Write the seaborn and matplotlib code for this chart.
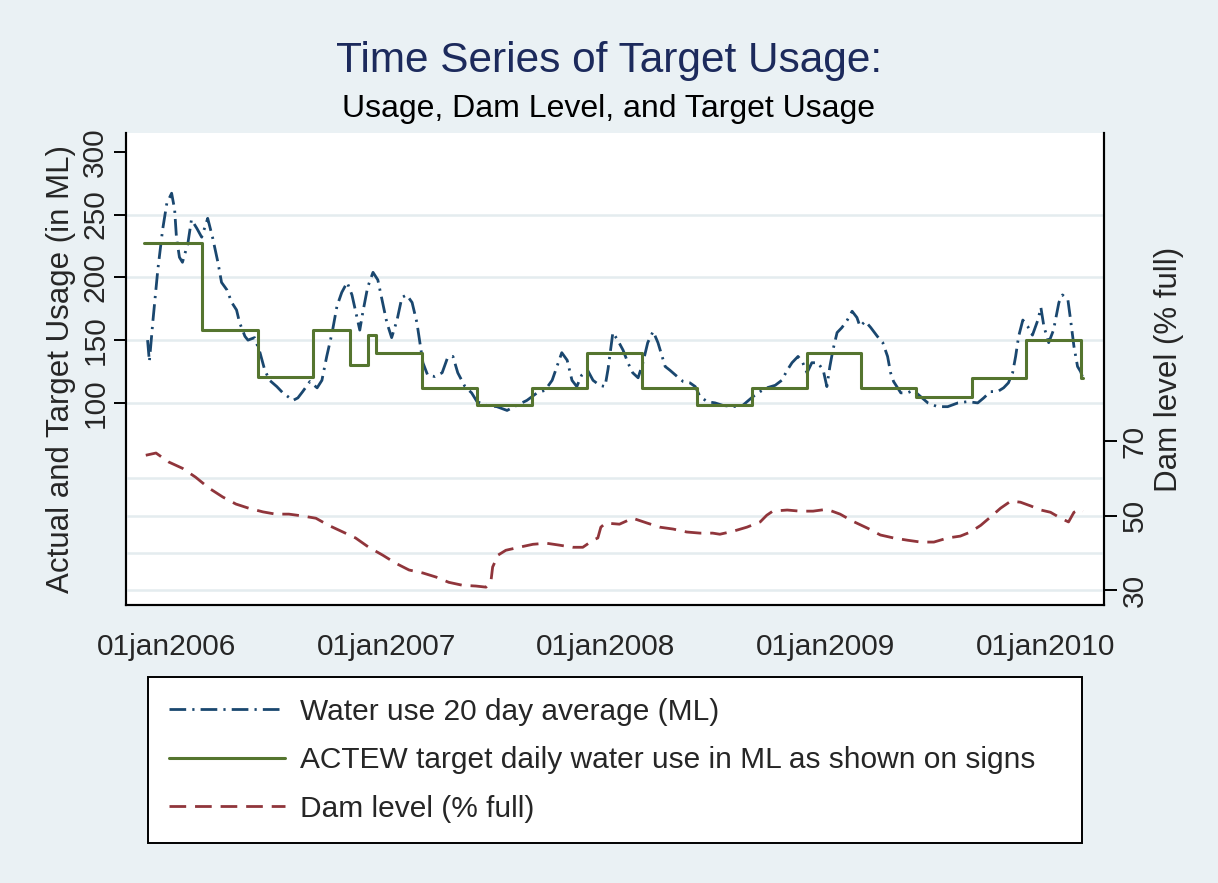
import pandas as pd
import seaborn as sns
import matplotlib.pyplot as plt

# Water use 20 day average (ML)
use_dates = [
    "2005-11-30", "2005-12-03", "2005-12-09", "2005-12-17", "2005-12-25", "2006-01-01", "2006-01-09",
    "2006-01-14", "2006-01-17", "2006-01-22", "2006-01-27", "2006-02-05", "2006-02-11", "2006-02-20",
    "2006-02-28", "2006-03-10", "2006-03-18", "2006-03-27", "2006-04-02", "2006-04-11", "2006-04-19",
    "2006-04-27", "2006-05-02", "2006-05-11", "2006-05-16", "2006-05-27", "2006-06-05", "2006-06-13",
    "2006-06-21", "2006-07-03", "2006-07-13", "2006-07-30", "2006-08-07", "2006-08-15", "2006-08-27",
    "2006-09-08", "2006-09-16", "2006-09-24", "2006-10-03", "2006-10-11", "2006-10-19", "2006-10-28",
    "2006-11-05", "2006-11-13", "2006-11-18", "2006-11-23", "2006-12-01", "2006-12-10", "2006-12-18",
    "2006-12-26", "2007-01-02", "2007-01-10", "2007-01-19", "2007-01-27", "2007-02-04", "2007-02-13",
    "2007-02-21", "2007-02-26", "2007-03-03", "2007-03-11", "2007-03-23", "2007-04-04", "2007-04-13",
    "2007-04-22", "2007-04-30", "2007-05-12", "2007-05-23", "2007-06-01", "2007-06-17", "2007-07-04",
    "2007-07-21", "2007-08-06", "2007-08-23", "2007-09-09", "2007-09-22", "2007-10-04", "2007-10-12",
    "2007-10-20", "2007-10-29", "2007-11-06", "2007-11-14", "2007-11-22", "2007-12-02", "2007-12-11",
    "2007-12-22", "2007-12-31", "2008-01-05", "2008-01-13", "2008-01-21", "2008-01-30", "2008-02-07",
    "2008-02-15", "2008-02-24", "2008-03-03", "2008-03-11", "2008-03-20", "2008-03-28", "2008-04-04",
    "2008-04-09", "2008-04-17", "2008-04-29", "2008-05-09", "2008-05-20", "2008-05-29", "2008-06-06",
    "2008-06-18", "2008-07-01", "2008-07-14", "2008-07-31", "2008-08-16", "2008-09-02", "2008-09-14",
    "2008-09-25", "2008-10-09", "2008-10-20", "2008-10-29", "2008-11-06", "2008-11-16", "2008-11-23",
    "2008-12-01", "2008-12-09", "2008-12-19", "2008-12-28", "2009-01-03", "2009-01-08", "2009-01-13",
    "2009-01-20", "2009-01-28", "2009-02-06", "2009-02-14", "2009-02-22", "2009-02-27", "2009-03-08",
    "2009-03-17", "2009-03-28", "2009-04-06", "2009-04-14", "2009-04-19", "2009-04-24", "2009-05-06",
    "2009-05-17", "2009-05-27", "2009-06-08", "2009-06-20", "2009-07-06", "2009-07-23", "2009-08-09",
    "2009-08-25", "2009-09-11", "2009-09-21", "2009-10-02", "2009-10-14", "2009-10-24", "2009-11-01",
    "2009-11-08", "2009-11-13", "2009-11-18", "2009-11-25", "2009-12-03", "2009-12-11", "2009-12-20",
    "2009-12-25", "2009-12-30", "2010-01-07", "2010-01-15", "2010-01-24", "2010-01-30", "2010-02-08",
    "2010-02-13", "2010-02-18", "2010-02-24", "2010-03-01", "2010-03-04",
]
use_ml = [
    150, 133, 166, 206, 238, 259, 267,
    254, 232, 216, 212, 227, 246, 239,
    232, 247, 232, 212, 196, 190, 180,
    174, 164, 153, 150, 152, 140, 126,
    118, 113, 108, 102, 104, 109, 117,
    112, 118, 137, 156, 177, 188, 196,
    186, 169, 158, 172, 192, 204, 198,
    180, 164, 152, 166, 184, 186, 180,
    164, 148, 132, 122, 121, 124, 136,
    137, 124, 113, 108, 101, 98, 97,
    94, 98, 102, 108, 110, 118, 129,
    140, 134, 118, 113, 122, 126, 118,
    114, 113, 127, 156, 150, 142, 132,
    124, 120, 132, 148, 157, 148, 137,
    129, 126, 121, 117, 116, 113, 105,
    101, 100, 98, 97, 98, 105, 109,
    112, 114, 118, 126, 132, 137, 133,
    124, 132, 132, 126, 113, 129, 142,
    156, 160, 166, 173, 168, 161, 165,
    160, 153, 148, 137, 124, 117, 108,
    108, 110, 105, 100, 97, 97, 100,
    101, 100, 104, 109, 109, 112, 116,
    124, 137, 153, 166, 161, 154, 166,
    176, 161, 148, 158, 180, 186, 182,
    164, 145, 129, 125, 121,
]

# ACTEW target daily water use (ML), value holds until the next date
target_dates = [
    "2005-11-24", "2006-03-01", "2006-06-01", "2006-09-01", "2006-11-01", "2006-12-01", "2006-12-15",
    "2007-03-01", "2007-06-01", "2007-09-01", "2007-12-01", "2008-03-01", "2008-06-01", "2008-09-01",
    "2008-12-01", "2009-03-01", "2009-06-01", "2009-09-01", "2009-12-01", "2010-03-01", "2010-03-05",
]
target_ml = [
    227, 158, 121, 158, 130, 154, 140,
    112, 98, 112, 140, 112, 98, 112,
    140, 112, 105, 120, 150, 120, 120,
]

# Dam level (% full)
dam_dates = [
    "2005-11-27", "2005-12-14", "2006-01-04", "2006-01-27", "2006-02-18", "2006-03-12", "2006-04-04",
    "2006-04-26", "2006-05-17", "2006-06-10", "2006-07-01", "2006-07-23", "2006-08-15", "2006-09-06",
    "2006-09-27", "2006-10-21", "2006-11-11", "2006-12-03", "2006-12-26", "2007-01-17", "2007-02-08",
    "2007-03-03", "2007-03-25", "2007-04-15", "2007-05-08", "2007-05-30", "2007-06-16", "2007-06-24",
    "2007-06-27", "2007-07-06", "2007-07-19", "2007-08-10", "2007-09-02", "2007-09-24", "2007-10-15",
    "2007-11-07", "2007-11-24", "2007-12-11", "2007-12-19", "2007-12-24", "2008-01-01", "2008-01-24",
    "2008-02-15", "2008-03-10", "2008-03-31", "2008-04-22", "2008-05-15", "2008-06-06", "2008-06-27",
    "2008-07-09", "2008-07-31", "2008-08-23", "2008-09-14", "2008-09-25", "2008-10-05", "2008-10-29",
    "2008-11-19", "2008-12-11", "2009-01-03", "2009-01-25", "2009-02-15", "2009-03-12", "2009-04-02",
    "2009-04-24", "2009-05-17", "2009-06-08", "2009-06-30", "2009-07-23", "2009-08-13", "2009-08-30",
    "2009-09-16", "2009-10-02", "2009-10-19", "2009-11-05", "2009-11-21", "2009-12-08", "2009-12-25",
    "2010-01-10", "2010-01-27", "2010-02-09", "2010-02-18", "2010-03-01", "2010-03-05",
]
dam_pct = [
    66.2, 66.8, 64.4, 62.7, 60.3, 57.4, 55.0,
    53.1, 52.0, 51.0, 50.4, 50.4, 49.9, 49.3,
    47.4, 45.6, 44.0, 41.5, 39.4, 37.2, 35.4,
    34.6, 33.5, 32.1, 31.3, 31.1, 30.8, 32.1,
    36.2, 39.4, 40.7, 41.5, 42.3, 42.6, 42.1,
    41.5, 41.5, 43.4, 44.0, 46.9, 48.0, 47.7,
    49.3, 48.0, 46.9, 46.4, 45.6, 45.3, 45.3,
    45.0, 45.8, 46.9, 48.3, 50.1, 51.2, 51.5,
    51.2, 51.2, 51.7, 50.4, 48.5, 46.6, 44.8,
    44.0, 43.4, 42.9, 42.9, 44.0, 44.5, 45.6,
    47.4, 49.6, 52.0, 53.9, 53.6, 52.6, 51.5,
    50.9, 49.3, 48.3, 50.9, 51.7, 51.2,
]

x_ticks = ["2006-01-01", "2007-01-01", "2008-01-01", "2009-01-01", "2010-01-01"]
x_tick_labels = ["01jan2006", "01jan2007", "01jan2008", "01jan2009", "01jan2010"]
left_ticks = [100, 150, 200, 250, 300]
left_grid = [100, 150, 200, 250]
right_ticks = [30, 50, 70]
right_grid = [30, 40, 50, 60]

usage = pd.DataFrame({"date": pd.to_datetime(use_dates), "ml": use_ml})
target = pd.DataFrame({"date": pd.to_datetime(target_dates), "ml": target_ml})
dam = pd.DataFrame({"date": pd.to_datetime(dam_dates), "pct": dam_pct})

bg = "#eaf1f4"
grid_col = "#e4ecef"
navy = "#1a476f"
green = "#55752f"
maroon = "#90353b"

sns.set_style("white")
plt.rcParams["font.family"] = ["Liberation Sans", "DejaVu Sans"]

fig = plt.figure(figsize=(12.18, 8.83), dpi=100, facecolor=bg)
ax = fig.add_axes([0.1034, 0.3148, 0.8030, 0.5346])
ax.set_facecolor("white")
ax2 = ax.twinx()

sns.lineplot(data=usage, x="date", y="ml", ax=ax, color=navy, lw=2.0, estimator=None,
             linestyle=(0, (6, 2.2, 0.8, 2.2)), label="Water use 20 day average (ML)", legend=False)
sns.lineplot(data=target, x="date", y="ml", ax=ax, color=green, lw=2.2, estimator=None,
             drawstyle="steps-post", label="ACTEW target daily water use in ML as shown on signs",
             legend=False)
sns.lineplot(data=dam, x="date", y="pct", ax=ax2, color=maroon, lw=2.0, estimator=None,
             linestyle=(0, (6, 3.2)), label="Dam level (% full)", legend=False)

ax.set_xlim(pd.Timestamp("2005-10-25"), pd.Timestamp("2010-04-09"))
ax.set_ylim(-61, 315)
ax2.set_ylim(26, 152.7)

ax.set_xticks(pd.to_datetime(x_ticks), labels=x_tick_labels)
ax.set_yticks(left_ticks, labels=[str(v) for v in left_ticks], rotation=90, va="center")
ax2.set_yticks(right_ticks, labels=[str(v) for v in right_ticks], rotation=90, va="center")

# gridlines via minor ticks so they only sit where the original has them
ax.yaxis.remove_overlapping_locs = False
ax2.yaxis.remove_overlapping_locs = False
ax.set_yticks(left_grid, minor=True)
ax2.set_yticks(right_grid, minor=True)
ax.grid(False)
ax2.grid(False)
ax.yaxis.grid(True, which="minor", color=grid_col, lw=1.8)
ax2.yaxis.grid(True, which="minor", color=grid_col, lw=1.8)
ax.tick_params(which="minor", length=0)
ax2.tick_params(which="minor", length=0)

ax.tick_params(axis="x", which="major", length=9, width=1.4, labelsize=21.5, pad=11, color="black")
ax.tick_params(axis="y", which="major", length=9, width=1.4, labelsize=21.5, pad=3, color="black",
               left=True)
ax2.tick_params(axis="y", which="major", length=9, width=1.4, labelsize=21.5, pad=3, color="black",
                right=True)

ax.set_xlabel("")
ax.set_ylabel("Actual and Target Usage (in ML)", fontsize=22.5, labelpad=4)
ax2.set_ylabel("Dam level (% full)", fontsize=22.5, labelpad=4)

for a in (ax, ax2):
    a.spines["top"].set_visible(False)
    for s in ("left", "bottom", "right"):
        a.spines[s].set_color("black")
        a.spines[s].set_linewidth(1.5)

fig.text(0.5, 1 - 61 / 883, "Time Series of Target Usage:", ha="center", va="center",
         fontsize=30.5, color="#1c2a5c")
fig.text(0.5, 1 - 109 / 883, "Usage, Dam Level, and Target Usage", ha="center", va="center",
         fontsize=23, color="black")

h1, l1 = ax.get_legend_handles_labels()
h2, l2 = ax2.get_legend_handles_labels()
leg = fig.legend(h1 + h2, l1 + l2, loc="upper left",
                 bbox_to_anchor=(148 / 1218, 1 - 677 / 883, (1082 - 148) / 1218, 0),
                 mode="expand", borderaxespad=0, fontsize=21.5, frameon=True, fancybox=False,
                 edgecolor="black", facecolor="white", framealpha=1,
                 handlelength=3.9, handletextpad=0.5, borderpad=0.7, labelspacing=0.68)
leg.get_frame().set_linewidth(1.4)

fig.savefig("out.png", dpi=100, facecolor=bg)
